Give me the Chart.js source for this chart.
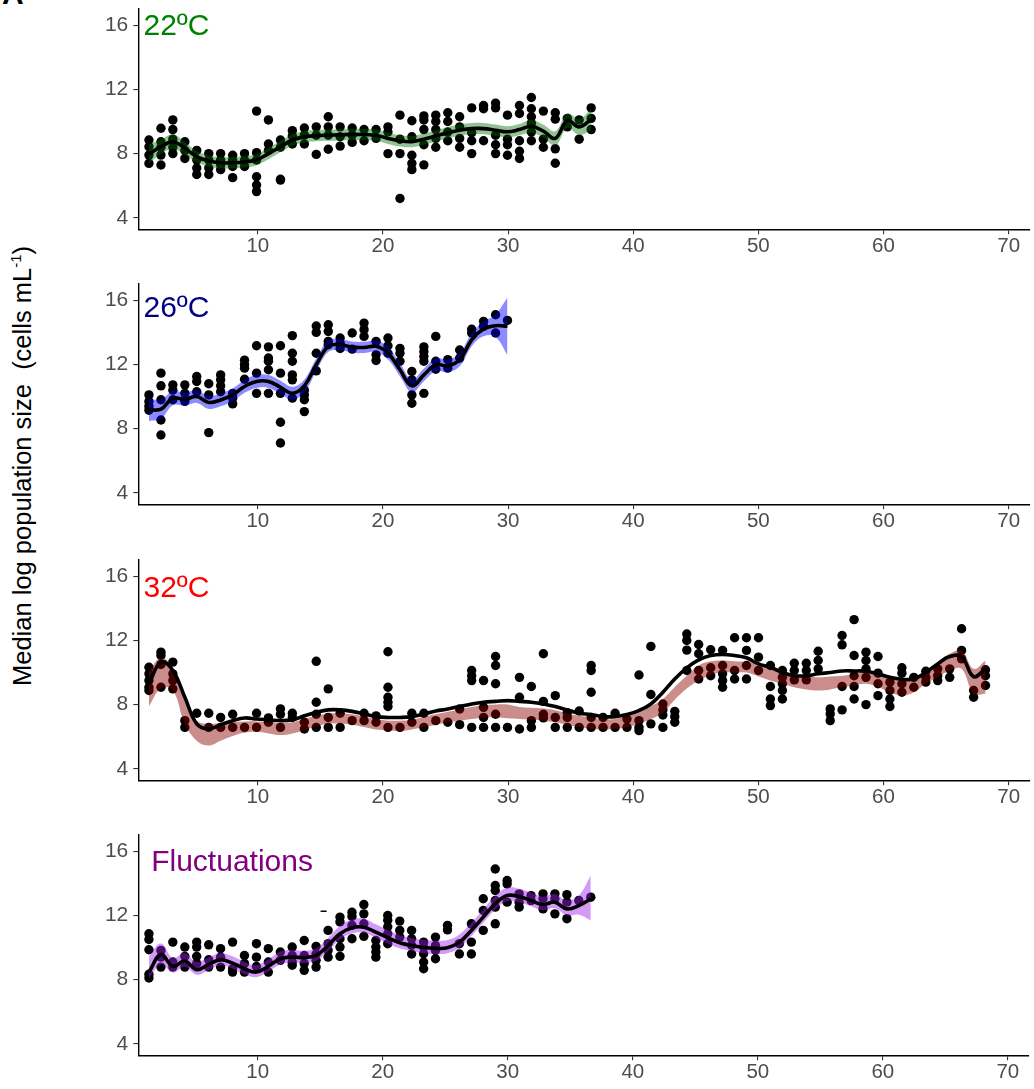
<!DOCTYPE html>
<html>
<head>
<meta charset="utf-8">
<script src="https://cdn.jsdelivr.net/npm/chart.js@4.4.1/dist/chart.umd.min.js"></script>
<style>
  body { margin: 0; background: #fff; }
  #wrap { position: relative; width: 1034px; height: 1089px; overflow: hidden; font-family: 'Liberation Sans', Arial, sans-serif; }
  .panel { position: absolute; left: 0; width: 1034px; height: 274px; }
  #ylab { position: absolute; left: 22px; top: 466px; transform: translate(-50%, -50%) rotate(-90deg); white-space: nowrap; font-size: 25.5px; color: #000; }
  #ylab sup { font-size: 15px; }
  #tag { position: absolute; left: 2px; top: -21px; font-size: 30px; line-height: 30px; font-weight: bold; }
</style>
</head>
<body>
<div id="wrap">
  <div id="tag">A</div>
  <div id="ylab">Median log population size&nbsp;&nbsp;(cells mL<sup>-1</sup>)</div>
  <div class="panel" style="top:0px"><canvas id="p22"></canvas></div>
  <div class="panel" style="top:275px"><canvas id="p26"></canvas></div>
  <div class="panel" style="top:551px"><canvas id="p32"></canvas></div>
  <div class="panel" style="top:826px"><canvas id="pfl"></canvas></div>
</div>
<script>
// sampling times (x) shared by every panel
const days = [1.30, 2.26, 3.21, 4.17, 5.12, 6.08, 7.03, 7.99, 8.94, 9.90,
  10.85, 11.81, 12.76, 13.72, 14.67, 15.63, 16.58, 17.54, 18.49, 19.45,
  20.40, 21.36, 22.31, 23.27, 24.22, 25.18, 26.13, 27.09, 28.04, 29.00,
  29.95, 30.91, 31.86, 32.82, 33.77, 34.73, 35.68, 36.64, 37.59, 38.55,
  39.50, 40.46, 41.41, 42.37, 43.32, 44.28, 45.23, 46.19, 47.14, 48.10,
  49.05, 50.01, 50.96, 51.92, 52.87, 53.83, 54.78, 55.74, 56.69, 57.65,
  58.60, 59.56, 60.51, 61.47, 62.42, 63.38, 64.33, 65.29, 66.24, 67.20, 68.15];

const xTicks = [10, 20, 30, 40, 50, 60, 70];
const yTicks = [4, 8, 12, 16];

// 22C
const obs22 = [[8.85, 8.43, 7.91, 7.39], [9.58, 8.74, 8.4, 7.91, 7.29], [10.1, 9.5, 8.9, 8.4, 8.0], [8.74, 8.2, 7.7],
  [8.2, 7.6, 7.1, 6.7], [8.0, 7.6, 7.1, 6.7], [8.0, 7.6, 7.3, 7.0], [7.9, 7.6, 7.2, 6.5], [8.0, 7.6, 7.2],
  [10.65, 8.06, 7.6, 6.56, 6.04, 5.63], [10.1, 8.6, 8.2], [8.85, 8.4, 6.4, 6.35], [9.43, 9.1, 8.6], [9.6, 9.15, 8.6],
  [9.67, 9.15, 7.95], [10.3, 9.67, 9.15, 8.27], [9.67, 9.05, 8.47], [9.6, 9.15, 8.7], [9.5, 8.8], [9.5, 8.95],
  [9.67, 9.35, 8.0], [10.4, 8.9, 8.0, 5.2], [10.05, 9.05, 7.9, 7.39, 7.0], [10.35, 10.1, 9.5, 8.55, 7.3],
  [10.4, 10.0, 9.5, 8.95, 8.4], [10.55, 10.0, 9.35, 8.8], [10.3, 9.67, 8.95, 8.4], [10.85, 9.3, 8.8, 8.0],
  [11.0, 10.8, 8.8], [11.15, 10.85, 9.15, 8.55, 8.0], [10.4, 8.9, 8.55, 7.9], [11.0, 10.5, 8.8, 8.15, 7.7],
  [11.5, 10.8, 10.3, 9.9, 9.35, 8.8], [10.65, 8.9, 8.4], [10.55, 10.15, 8.3, 7.4], [10.2, 9.67], [10.1, 8.9],
  [10.85, 10.2, 9.5]];
const fit22 = [7.98, 8.43, 8.74, 8.33, 7.81, 7.54, 7.43, 7.43, 7.48, 7.62, 8.0, 8.43, 8.85, 9.05, 9.12, 9.15, 9.17,
  9.2, 9.18, 9.15, 8.95, 8.8, 8.75, 8.9, 9.1, 9.3, 9.46, 9.56, 9.56, 9.46, 9.36, 9.5, 9.7, 9.4, 8.95, 10.05, 9.67, 10.13];
const lo22 = [7.38, 7.98, 8.29, 7.93, 7.46, 7.19, 7.08, 7.08, 7.13, 7.27, 7.65, 8.08, 8.5, 8.7, 8.77, 8.8, 8.82,
  8.85, 8.83, 8.8, 8.6, 8.45, 8.4, 8.55, 8.75, 8.95, 9.11, 9.21, 9.21, 9.11, 9.01, 9.15, 9.3, 9.0, 8.5, 9.6, 9.17, 9.48];
const hi22 = [8.58, 8.88, 9.19, 8.73, 8.16, 7.89, 7.78, 7.78, 7.83, 7.97, 8.35, 8.78, 9.2, 9.4, 9.47, 9.5, 9.52,
  9.55, 9.53, 9.5, 9.3, 9.15, 9.1, 9.25, 9.45, 9.65, 9.81, 9.91, 9.91, 9.81, 9.71, 9.85, 10.1, 9.8, 9.4, 10.5, 10.17, 10.78];

// 26C
const obs26 = [[10.1, 9.69, 9.4, 9.15], [11.46, 10.67, 9.8, 8.54, 7.6], [10.73, 10.4, 9.8], [10.73, 10.2, 9.7],
  [11.25, 10.94, 10.3], [10.8, 10.1, 7.75], [11.35, 11.04, 10.67, 10.3], [10.2, 9.9, 9.54], [12.27, 12.0, 11.77, 11.08],
  [13.17, 11.46, 10.2], [13.1, 12.4, 12.2, 11.67, 10.2], [13.17, 11.46, 10.2, 8.4, 7.1], [13.8, 12.7, 12.2, 11.35, 11.04, 9.9],
  [10.4, 10.1, 9.8, 9.06], [14.4, 14.0, 12.7, 11.6], [14.48, 14.06, 13.44, 13.23], [13.65, 13.33, 13.0], [13.96, 12.96],
  [14.58, 14.17, 13.75], [13.44, 12.6, 12.25], [13.65, 13.17, 12.7], [13.0, 12.7, 12.2], [11.56, 11.04, 10.1, 9.58],
  [13.1, 12.8, 12.5, 12.2, 10.2], [13.75, 12.2, 11.7], [12.3, 11.77], [12.9, 12.4], [14.2, 13.96], [14.69, 14.38],
  [15.1, 13.96], [14.75]];
const fit26 = [9.17, 9.21, 9.9, 9.83, 10.0, 9.63, 9.79, 10.1, 10.63, 10.94, 10.94, 10.58, 10.21, 10.67, 11.98, 13.13,
  13.23, 13.08, 13.06, 13.13, 12.71, 11.67, 10.67, 11.35, 11.98, 11.92, 12.29, 13.54, 14.21, 14.42, 14.38];
const lo26 = [8.47, 8.61, 9.45, 9.43, 9.6, 9.23, 9.39, 9.7, 10.23, 10.54, 10.54, 10.18, 9.81, 10.27, 11.58, 12.78,
  12.88, 12.73, 12.71, 12.78, 12.31, 11.27, 10.27, 10.95, 11.58, 11.52, 11.89, 13.14, 13.76, 13.72, 12.58];
const hi26 = [9.87, 9.81, 10.35, 10.23, 10.4, 10.03, 10.19, 10.5, 11.03, 11.34, 11.34, 10.98, 10.61, 11.07, 12.38, 13.48,
  13.58, 13.43, 13.41, 13.48, 13.11, 12.07, 11.07, 11.75, 12.38, 12.32, 12.69, 13.94, 14.66, 15.12, 16.18];

// 32C
const obs32 = [[10.33, 9.92, 9.5, 9.08, 8.88], [11.27, 11.06, 10.5, 9.08], [10.65, 9.92, 9.5, 8.98], [7.0, 6.58],
  [7.46], [7.46, 6.58], [7.2, 6.58], [7.4, 6.58], [6.58], [7.46, 6.58], [7.17, 6.9], [7.73, 7.4, 6.58], [7.46, 7.2],
  [6.9, 6.48], [10.7, 8.15, 7.4, 6.58], [8.98, 7.2, 6.58], [7.46, 6.58], [7.0], [7.46, 7.0], [7.3, 6.9],
  [11.3, 9.08, 8.46, 8.15, 7.88, 6.58], [6.58], [7.46, 6.9], [7.46, 6.58], [7.0], [6.9], [7.73, 6.75],
  [10.13, 9.8, 9.5, 6.58], [9.5, 7.83, 7.2, 6.58], [11.0, 10.44, 9.3, 7.4, 6.58], [6.58], [9.7, 8.46, 6.48],
  [9.13, 7.0, 6.58], [11.17, 8.2, 7.4, 7.17], [8.56, 7.2, 6.58], [7.5, 7.2, 6.58], [7.6, 6.58],
  [10.44, 10.13, 8.77, 7.2, 6.58], [7.2, 6.58], [7.46, 6.58], [7.1, 6.58], [9.85, 7.0, 6.58, 6.38], [11.63, 8.63, 6.8],
  [8.04, 7.67, 7.35, 6.58], [7.58, 7.25, 6.9], [12.4, 12.0, 11.4, 10.13], [11.75, 11.17, 10.13, 9.6], [11.42, 10.3, 9.8],
  [11.38, 10.44, 9.92, 9.5, 9.08], [12.17, 10.13, 9.6], [12.17, 11.38, 10.44, 9.6], [12.17, 10.96, 10.13],
  [10.44, 9.13, 8.35, 7.94], [10.13, 9.7, 9.3, 8.88, 8.35], [10.58, 10.13, 9.54], [10.58, 10.13, 9.54],
  [11.33, 10.75, 10.23], [7.73, 7.42, 7.0], [12.31, 11.73, 9.13, 7.67], [13.3, 11.06, 9.8, 9.13, 8.35],
  [11.27, 10.75, 10.23, 9.7, 8.0], [11.0, 9.96, 9.3, 8.56], [9.4, 8.88, 8.35, 7.88], [10.3, 9.96, 9.3, 8.77],
  [9.7, 9.08], [10.08, 9.7, 9.4], [10.23, 9.8, 9.5], [10.23, 9.7], [12.73, 11.38, 10.85], [8.88, 8.46],
  [10.17, 9.8, 9.19]];
const fit32 = [9.3, 10.65, 10.13, 8.46, 6.8, 6.48, 6.75, 7.0, 7.17, 7.1, 7.05, 7.0, 7.05, 7.3, 7.52, 7.67, 7.67, 7.58,
  7.42, 7.25, 7.2, 7.2, 7.25, 7.42, 7.6, 7.73, 7.88, 8.04, 8.15, 8.2, 8.25, 8.2, 8.15, 8.04, 7.88, 7.67, 7.46, 7.38,
  7.25, 7.25, 7.38, 7.63, 8.04, 8.77, 9.6, 10.29, 10.79, 11.06, 11.13, 11.06, 10.92, 10.54, 10.33, 10.0, 9.8, 9.8,
  9.92, 10.0, 10.1, 10.1, 10.08, 9.92, 9.7, 9.58, 9.6, 10.0, 10.54, 11.0, 11.0, 9.75, 10.23];
const lo32 = [7.9, 9.0, 8.9, 6.8, 5.75, 5.45, 5.75, 6.05, 6.25, 6.3, 6.2, 6.1, 6.2, 6.4, 6.65, 6.8, 6.8, 6.75, 6.6, 6.45,
  6.4, 6.35, 6.45, 6.6, 6.75, 6.9, 7.0, 7.1, 7.2, 7.2, 7.15, 7.1, 7.05, 7.0, 6.9, 6.75, 6.6, 6.5, 6.45, 6.5, 6.58, 6.8,
  7.1, 7.5, 8.3, 9.0, 9.5, 9.85, 10.0, 10.0, 10.0, 9.75, 9.5, 9.3, 9.08, 8.95, 8.88, 8.95, 9.08, 9.2, 9.3, 9.1, 8.77,
  8.56, 8.77, 9.3, 9.7, 10.13, 10.23, 8.67, 8.67];
const hi32 = [10.1, 10.9, 10.3, 8.3, 7.0, 6.8, 6.85, 6.9, 6.95, 6.95, 6.9, 6.85, 6.9, 7.1, 7.3, 7.45, 7.45, 7.4, 7.25,
  7.1, 7.0, 7.0, 7.05, 7.25, 7.4, 7.55, 7.7, 7.85, 7.94, 8.0, 8.0, 7.85, 7.8, 7.75, 7.65, 7.45, 7.3, 7.2, 7.1, 7.1,
  7.3, 7.5, 7.9, 8.35, 9.1, 9.8, 10.44, 10.7, 10.75, 10.7, 10.65, 10.55, 10.44, 10.15, 9.92, 9.8, 9.7, 9.75, 9.8,
  9.9, 10.0, 9.9, 9.7, 9.5, 9.6, 10.13, 10.65, 11.17, 11.38, 10.23, 10.75];

// fluctuating temperature
const obsFl = [[10.86, 10.5, 9.86, 8.33, 8.1], [9.82, 9.4, 8.78], [10.34, 9.1, 8.78], [10.03, 9.45, 8.78],
  [10.34, 10.03, 9.45, 9.0], [10.17, 9.24, 8.78], [9.93, 9.4, 8.78], [10.34, 8.68, 8.47], [9.5, 9.0, 8.47],
  [10.24, 9.4, 8.82], [9.93, 9.1, 8.47], [9.72, 9.2], [10.03, 9.5, 9.1, 8.9], [10.44, 9.5, 9.0, 8.58],
  [10.07, 9.6, 9.2, 8.78], [11.07, 10.24, 9.82, 9.4], [11.9, 11.6, 10.55, 10.03, 9.45], [12.2, 11.94, 11.38, 10.55],
  [12.68, 12.1, 11.48, 10.7], [10.44, 10.03, 9.72, 9.4], [12.0, 11.7, 11.3, 10.86, 10.24], [11.65, 11.07, 10.65],
  [11.07, 10.55, 10.14, 9.6], [10.34, 10.03, 9.61, 9.1, 8.68], [10.65, 10.13, 9.82, 9.3], [11.38, 11.1], [10.24, 9.6],
  [11.48, 10.34, 9.6], [13.04, 12.31, 11.07], [14.9, 13.87, 13.56, 12.93, 12.52, 11.48], [14.18, 13.97, 12.83],
  [13.35, 12.83, 12.52], [13.24, 12.93], [13.35, 13.04, 12.41], [13.35, 13.04, 12.1], [13.3, 12.83, 11.8], [12.93],
  [13.14]];
const fitFl = [8.47, 9.57, 8.83, 9.16, 8.62, 8.95, 9.24, 9.03, 8.68, 8.47, 8.83, 9.3, 9.41, 9.37, 9.51, 10.13, 10.86,
  11.23, 11.27, 10.96, 10.61, 10.3, 10.13, 10.0, 9.95, 9.99, 10.34, 11.07, 11.9, 12.73, 13.24, 13.18, 12.93, 12.68,
  12.83, 12.41, 12.62, 13.04];
const loFl = [8.1, 8.95, 8.45, 8.8, 8.3, 8.6, 8.9, 8.7, 8.35, 8.15, 8.5, 8.95, 9.07, 9.03, 9.17, 9.78, 10.5, 10.87,
  10.92, 10.61, 10.26, 9.95, 9.78, 9.65, 9.6, 9.64, 9.99, 10.72, 11.55, 12.38, 12.89, 12.83, 12.58, 12.33, 12.45,
  12.0, 12.05, 11.7];
const hiFl = [9.45, 10.25, 9.35, 9.65, 9.1, 9.4, 9.65, 9.45, 9.1, 8.9, 9.25, 9.75, 9.85, 9.8, 9.95, 10.6, 11.35, 11.75,
  11.8, 11.45, 11.1, 10.77, 10.6, 10.47, 10.43, 10.47, 10.82, 11.55, 12.38, 13.21, 13.75, 13.67, 13.43, 13.17, 13.33,
  12.95, 13.25, 14.5];
const dashFl = [{ x: 15.27, y: 12.27 }];

const panelNames = ['22ºC', '26ºC', '32ºC', 'Fluctuations'];
const panelColours = ['#008000', '#000080', '#ff0000', '#800080'];
const bandColours = ['rgba(0,110,0,0.42)', 'rgba(0,0,255,0.45)', 'rgba(139,0,0,0.45)', 'rgba(160,32,240,0.45)'];
const labelX = [3.5, 3.5, 3.5, 7.95];
const labelY = [16.08, 15.65, 15.36, 15.44];

const FONT = "'Liberation Sans', Arial, sans-serif";

function curve(vals) {
    return vals.map((v, i) => ({ x: days[i], y: v }));
}

function cloud(cols) {
    const pts = [];
    cols.forEach((col, i) => col.forEach(v => pts.push({ x: days[i], y: v })));
    return pts;
}

// panel name written inside the plot area
const panelLabel = {
    id: 'panelLabel',
    afterDatasetsDraw(chart, args, opts) {
        const ctx = chart.ctx;
        ctx.save();
        ctx.font = '30px ' + FONT;
        ctx.fillStyle = opts.color;
        ctx.textAlign = 'center';
        ctx.textBaseline = 'alphabetic';
        ctx.fillText(opts.text, chart.scales.x.getPixelForValue(opts.x), chart.scales.y.getPixelForValue(opts.y) + 10.7);
        ctx.restore();
    }
};

function makePanel(canvasId, i, obs, fit, lo, hi, extra) {
    const datasets = [
        { data: curve(fit), showLine: true, borderColor: '#000', borderWidth: 3.6, pointRadius: 0, tension: 0.4, fill: false, order: 0 },
        { data: curve(hi), showLine: true, borderColor: 'rgba(0,0,0,0)', borderWidth: 0, pointRadius: 0, tension: 0.4, fill: '+1', backgroundColor: bandColours[i], order: 1 },
        { data: curve(lo), showLine: true, borderColor: 'rgba(0,0,0,0)', borderWidth: 0, pointRadius: 0, tension: 0.4, fill: false, order: 1 },
        { data: cloud(obs), pointRadius: 4.7, pointBackgroundColor: '#000', pointBorderWidth: 0, order: 2 }
    ];
    if (extra) {
        datasets.push({ data: extra, pointStyle: 'line', pointRadius: 3, pointBorderColor: '#000', pointBorderWidth: 1.5, order: 2 });
    }

    new Chart(document.getElementById(canvasId), {
        type: 'scatter',
        data: { datasets: datasets },
        options: {
            responsive: true,
            maintainAspectRatio: false,
            animation: false,
            layout: { padding: { top: 8.5, right: 1, left: 0, bottom: 0 } },
            plugins: {
                legend: { display: false },
                tooltip: { enabled: false },
                panelLabel: { text: panelNames[i], color: panelColours[i], x: labelX[i], y: labelY[i] }
            },
            scales: {
                x: {
                    type: 'linear', min: 0.45, max: 71.65,
                    afterBuildTicks: s => { s.ticks = xTicks.map(v => ({ value: v })); },
                    afterFit: s => { s.height = 44.7; s.paddingLeft = 0; s.paddingRight = 0; },
                    grid: { drawOnChartArea: false, drawTicks: true, tickLength: 5, color: '#333', lineWidth: 1.1 },
                    border: { display: true, color: '#000', width: 1.4 },
                    ticks: { color: '#4d4d4d', font: { size: 20.5, family: FONT }, padding: 0, maxRotation: 0, autoSkip: false }
                },
                y: {
                    type: 'linear', min: 3.28, max: 17.05,
                    afterBuildTicks: s => { s.ticks = yTicks.map(v => ({ value: v })); },
                    afterFit: s => { s.width = 138.3; s.paddingTop = 0; s.paddingBottom = 0; },
                    grid: { drawOnChartArea: false, drawTicks: true, tickLength: 5, color: '#333', lineWidth: 1.1 },
                    border: { display: true, color: '#000', width: 1.4 },
                    ticks: { color: '#4d4d4d', font: { size: 21, family: FONT }, padding: 5 }
                }
            }
        },
        plugins: [panelLabel]
    });
}

makePanel('p22', 0, obs22, fit22, lo22, hi22);
makePanel('p26', 1, obs26, fit26, lo26, hi26);
makePanel('p32', 2, obs32, fit32, lo32, hi32);
makePanel('pfl', 3, obsFl, fitFl, loFl, hiFl, dashFl);
</script>
</body>
</html>
